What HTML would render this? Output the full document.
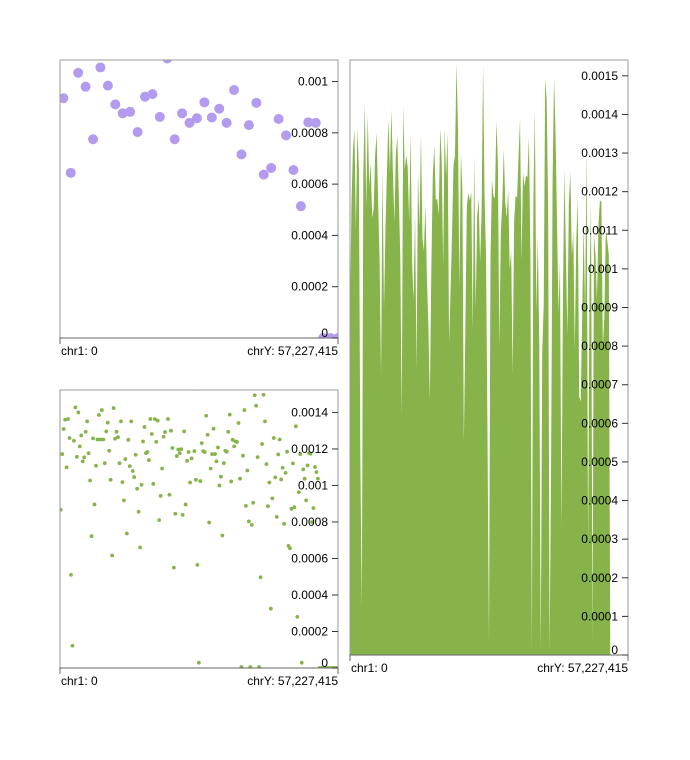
<!DOCTYPE html>
<html><head><meta charset="utf-8"><style>
html,body{margin:0;padding:0;background:#fff}
svg{display:block;font-family:"Liberation Sans",Arial,sans-serif}
</style></head><body>
<svg id="root" width="690" height="760" viewBox="0 0 690 760">
<defs>
<clipPath id="c1"><rect x="60" y="60" width="278" height="278"/></clipPath>
<clipPath id="c2"><rect x="60" y="390" width="278" height="278"/></clipPath>
<clipPath id="c3"><rect x="350" y="60" width="278" height="595"/></clipPath>
</defs>
</svg>
<script>
// purple scatter values (top-left)
const purpleValues=[0.000935,0.000644,0.001034,0.00098,0.000775,0.001055,0.000984,0.000911,0.000876,0.000882,0.000803,0.000941,0.000951,0.000862,0.00109,0.000775,0.000876,0.000839,0.000857,0.000919,0.00086,0.000894,0.000839,0.000967,0.000716,0.00083,0.000917,0.000637,0.000663,0.000854,0.00079,0.000655,0.000514,0.000841,0.000839,0,0,0];
// green series values in units of 1e-4 (bottom-left scatter and right area)
const greenValues4=[8.67,11.72,13.09,13.60,10.99,13.64,12.60,5.10,1.22,12.45,14.28,11.57,14.00,12.14,12.74,11.32,11.54,12.94,13.51,11.77,10.27,7.22,12.58,8.96,11.08,12.52,13.86,12.52,14.13,12.52,11.22,12.96,13.44,11.90,10.31,6.16,14.24,12.56,12.94,12.65,11.22,13.51,10.18,9.18,11.44,7.37,12.50,11.06,13.51,10.79,10.46,11.68,9.82,8.56,6.60,10.04,12.41,13.20,11.77,11.83,11.39,13.64,12.82,10.09,13.64,12.39,13.55,8.10,9.43,10.93,12.67,12.93,15.34,13.64,9.49,13.00,12.05,5.50,8.45,11.61,11.97,11.77,11.99,8.39,12.96,8.96,11.35,11.83,10.16,11.48,15.30,11.88,10.31,5.65,0.29,10.24,12.32,11.88,11.83,13.82,12.78,7.97,10.93,11.72,13.11,11.72,11.32,12.08,10.00,10.48,7.26,11.22,11.90,11.85,12.94,13.88,10.22,12.50,12.14,12.41,12.38,13.42,10.37,0.05,11.63,14.13,8.88,10.82,8.03,0.05,7.84,9.05,14.94,14.37,11.55,0.05,4.97,12.27,14.97,13.51,11.17,8.87,10.16,3.25,9.29,12.60,10.44,8.28,11.70,12.52,10.33,10.97,7.90,10.69,11.85,6.69,6.56,8.72,11.21,8.81,13.24,2.80,9.63,11.72,0.29,10.88,10.37,9.18,11.10,11.77,11.74,7.99,8.76,11.01,10.73,10.37,0,0,0,0,0,0,0,0,0,0,0,0,0];
const ticks1=[0,0.0002,0.0004,0.0006,0.0008,0.001];
const ticks2=[0,0.0002,0.0004,0.0006,0.0008,0.001,0.0012,0.0014];
const ticks3=[0,0.0001,0.0002,0.0003,0.0004,0.0005,0.0006,0.0007,0.0008,0.0009,0.001,0.0011,0.0012,0.0013,0.0014,0.0015];
const xLabels=["chr1: 0","chrY: 57,227,415"];

const NS="http://www.w3.org/2000/svg";
const root=document.getElementById('root');
function mk(tag,attrs,parent){const e=document.createElementNS(NS,tag);for(const k in attrs)e.setAttribute(k,attrs[k]);(parent||root).appendChild(e);return e;}
function lin(d0,d1,r0,r1){return v=>r0+(v-d0)/(d1-d0)*(r1-r0);}

function frame(x,y,w,h,ticks,ymax,name){
  const g=mk('g',{});
  
  
  const ys=lin(0,ymax,y+h,y);
  const b=mk('path',{d:`M${x},${y+h}V${y}H${x+w}V${y+h}`,fill:'none',stroke:'#999','stroke-width':1},g);
  
  
  const ax=mk('path',{d:`M${x},${y+h+6}V${y+h}H${x+w}V${y+h+6}`,fill:'none',stroke:'#666','stroke-width':1},g);
  
  
  ticks.forEach(t=>{
    const ty=ys(t);
    const tl=mk('line',{x1:x+w-6,x2:x+w,y1:ty,y2:ty,stroke:'#333','stroke-width':1},g);
    
    
    const tx=mk('text',{x:x+w-10,y:Math.min(ty+4,y+h-1),'text-anchor':'end','font-size':12,fill:'#000'},g);
    tx.textContent=String(t);
    
    
  });
  const l1=mk('text',{x:x+1,y:y+h+17,'font-size':12,fill:'#000'},g);
  l1.textContent=xLabels[0];
  
  
  const l2=mk('text',{x:x+w,y:y+h+17,'font-size':12,fill:'#000','text-anchor':'end'},g);
  l2.textContent=xLabels[1];
  
  
  return ys;
}

// Panel 1: purple scatter
(function(){
  const ys=lin(0,0.001084,338,60);
  const xs=lin(-0.45,purpleValues.length-1,60,338);
  const g=mk('g',{'clip-path':'url(#c1)'});
  
  
  purpleValues.forEach((v,i)=>{
    const c=mk('circle',{cx:xs(i),cy:ys(v),r:5,fill:'#b39cf0'},g);
    
    
  });
  frame(60,60,278,278,ticks1,0.001084,'purple-scatter');
})();

// Panel 2: green scatter
(function(){
  const ys=lin(0,0.001523,668,390);
  const xs=lin(0,greenValues4.length-1,60.7,337);
  const g=mk('g',{'clip-path':'url(#c2)'});
  
  
  greenValues4.forEach((v,i)=>{
    const c=mk('circle',{cx:xs(i),cy:ys(v*1e-4),r:1.9,fill:'#86b34a'},g);
    
    
  });
  frame(60,390,278,278,ticks2,0.001523,'green-scatter');
})();

// Panel 3: green area
(function(){
  const ys=lin(0,0.001541,655,60);
  const xs=lin(0,greenValues4.length-1,350,628);
  let d=`M${xs(0)},655`;
  greenValues4.forEach((v,i)=>{d+=`L${xs(i).toFixed(2)},${ys(v*1e-4).toFixed(2)}`;});
  d+=`L${xs(greenValues4.length-1)},655Z`;
  const p=mk('path',{d:d,fill:'#86b34a','clip-path':'url(#c3)'});
  
  
  frame(350,60,278,595,ticks3,0.001541,'green-area');
})();
</script>
</body></html>
